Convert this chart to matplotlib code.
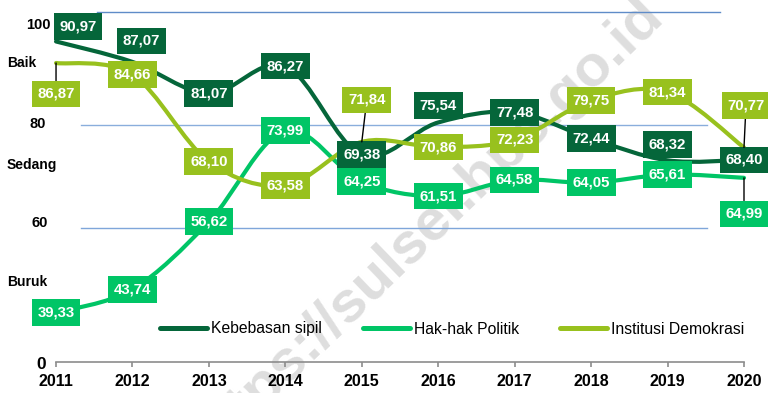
import numpy as np
import matplotlib.pyplot as plt
from matplotlib.path import Path
from matplotlib.patches import PathPatch
from matplotlib.lines import Line2D
from matplotlib.transforms import blended_transform_factory

plt.rcParams['font.family'] = ['Liberation Sans', 'DejaVu Sans']

# Indeks Demokrasi Indonesia, per aspek
years = [2011, 2012, 2013, 2014, 2015, 2016, 2017, 2018, 2019, 2020]
kebebasan_sipil = [90.97, 87.07, 81.07, 86.27, 69.38, 75.54, 77.48, 72.44, 68.32, 68.40]
hak_politik = [39.33, 43.74, 56.62, 73.99, 64.25, 61.51, 64.58, 64.05, 65.61, 64.99]
institusi = [86.87, 84.66, 68.10, 63.58, 71.84, 70.86, 72.23, 79.75, 81.34, 70.77]
names = ['Kebebasan sipil', 'Hak-hak Politik', 'Institusi Demokrasi']
colors = ['#05663A', '#00C566', '#98C11E']

# category scale on the left side
scale_labels = ['100', 'Baik', '80', 'Sedang', '60', 'Buruk', '0']

# label offsets in pixels (dx, dy); leader=True draws a thin connector
label_offsets = {
    (0, 0): (22, 15, False), (0, 1): (9, 21, False),
    (0, 5): (0, 17, False), (0, 8): (0, 16, False),
    (1, 9): (0, -36, True),
    (2, 0): (0, -31, True), (2, 4): (5, 42, True), (2, 9): (2, 42, True),
}


def smooth_path(x, y):
    """Bezier path through the points, similar to a spreadsheet 'smoothed line'."""
    pts = np.column_stack([np.asarray(x, float), np.asarray(y, float)])
    n = len(pts)
    verts = [pts[0]]
    codes = [Path.MOVETO]
    for i in range(n - 1):
        p0 = pts[max(i - 1, 0)]
        p1 = pts[i]
        p2 = pts[i + 1]
        p3 = pts[min(i + 2, n - 1)]
        verts += [p1 + (p2 - p0) / 6.0, p2 - (p3 - p1) / 6.0, p2]
        codes += [Path.CURVE4] * 3
    return Path(verts, codes)


class LabelBox:
    """Plain rectangle with separate horizontal / vertical padding."""

    def __init__(self, padx, pady):
        self.padx = padx
        self.pady = pady

    def __call__(self, x0, y0, width, height, mutation_size):
        px = self.padx * mutation_size
        py = self.pady * mutation_size
        x1, y1 = x0 + width + px, y0 + height + py
        x0, y0 = x0 - px, y0 - py
        return Path([(x0, y0), (x1, y0), (x1, y1), (x0, y1), (x0, y0)], closed=True)


fig = plt.figure(figsize=(7.68, 3.93), dpi=100)
ax = fig.add_axes([0, 31 / 393, 1, 362 / 393])
ax.set_xlim(2010.267, 2020.314)
ax.set_ylim(29.9, 98.87)

# decorative guide lines
ax.plot([2011.54, 2019.69], [96.58, 96.58], color='#5F8CC8', lw=1, zorder=1)
ax.plot([2011.33, 2019.52], [75.05, 75.05], color='#8AAEDC', lw=1, zorder=1)
ax.plot([2011.33, 2019.52], [55.43, 55.43], color='#7FA6DA', lw=1, zorder=1)

# watermark
ax.text(0.555, 0.42, 'https://sulsel.bps.go.id', transform=fig.transFigure,
        rotation=44, rotation_mode='anchor', ha='center', va='center',
        fontsize=42, fontweight='bold', color='#DEDEDE', zorder=0.5,
        clip_on=False)

series = [kebebasan_sipil, hak_politik, institusi]
for k, vals in enumerate(series):
    ax.add_patch(PathPatch(smooth_path(years, vals), fill=False, ec=colors[k],
                           lw=3, capstyle='round', joinstyle='round', zorder=2 + k))

for k, vals in enumerate(series):
    for i, (yr, v) in enumerate(zip(years, vals)):
        dx, dy, leader = label_offsets.get((k, i), (0, 0, False))
        txt = f'{v:.2f}'.replace('.', ',')
        ax.annotate(txt, xy=(yr, v), xytext=(dx, dy), textcoords='offset pixels',
                    ha='center', va='center', fontsize=10.8, fontweight='bold',
                    color='white', zorder=10,
                    bbox=dict(boxstyle=LabelBox(0.38, 0.42), fc=colors[k], ec='none'),
                    arrowprops=dict(arrowstyle='-', color='black', lw=1,
                                    shrinkA=0, shrinkB=0) if leader else None,
                    annotation_clip=False)

# left scale text
tr = blended_transform_factory(ax.transAxes, ax.transData)
scale_pos = [(26, 94.1, 10.5), (7, 86.9, 10), (29, 75.25, 10.5), (7, 67.4, 10),
             (32, 56.4, 10.5), (7, 45.15, 10), (36, 29.5, 12.5)]
for lab, (px, yv, fs) in zip(scale_labels, scale_pos):
    ax.text(px / 768, yv, lab, transform=tr, ha='left', va='center',
            fontsize=fs, fontweight='bold', color='black', clip_on=False)

for s in ['top', 'left', 'right']:
    ax.spines[s].set_visible(False)
ax.spines['bottom'].set_color('#8C8C8C')
ax.spines['bottom'].set_linewidth(1.2)
ax.spines['bottom'].set_bounds(2011, 2020)
ax.set_yticks([])
ax.set_xticks(years)
ax.set_xticklabels([str(y) for y in years], fontsize=11.5, fontweight='bold')
ax.tick_params(axis='x', direction='out', length=3.5, width=1.2,
               color='#8C8C8C', pad=5.5)
ax.patch.set_visible(False)

handles = [Line2D([], [], color=c, lw=3.6, solid_capstyle='round') for c in colors]
ax.legend(handles, names, loc='center left', bbox_to_anchor=(160 / 768, 64 / 393),
          bbox_transform=fig.transFigure, ncol=3, frameon=False, fontsize=11.3,
          borderpad=0, borderaxespad=0, handlelength=3.0, handletextpad=0.25,
          columnspacing=2.6)

fig.savefig('out.png', dpi=100)
